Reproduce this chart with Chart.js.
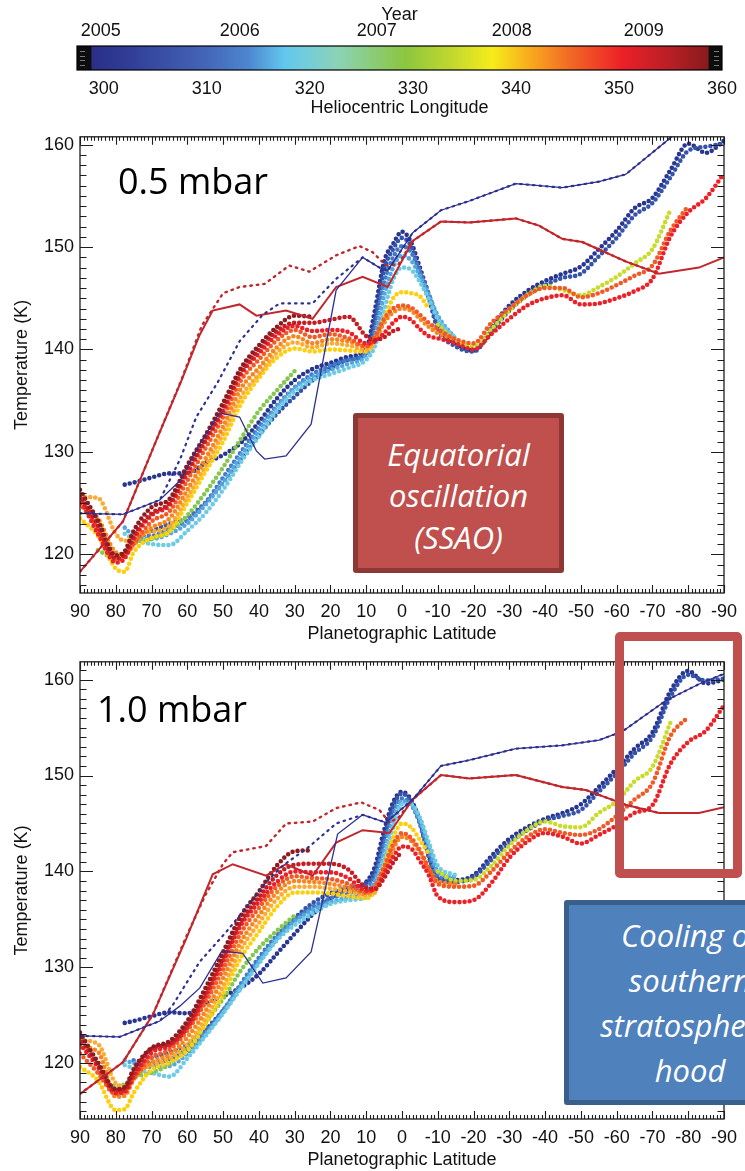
<!DOCTYPE html>
<html>
<head>
<meta charset="utf-8">
<title>Saturn stratospheric temperatures</title>
<script src="https://cdn.jsdelivr.net/npm/chart.js@4.4.1/dist/chart.umd.min.js"></script>
<style>
  html, body { margin: 0; padding: 0; background: #fff; }
  body { width: 745px; height: 1171px; position: relative; overflow: hidden; }
  canvas { position: absolute; left: 0; }
  #cbar { top: 0; }
  #p05 { top: 120px; }
  #p10 { top: 645px; }
  .note {
    position: absolute; box-sizing: border-box; color: #fff;
    font-family: "Open Sans", "Noto Sans", sans-serif; font-style: italic;
    text-align: center; border-radius: 3px; z-index: 5;
    display: flex; flex-direction: column; justify-content: center;
  }
  #ssao { left: 353px; top: 413px; width: 211px; height: 160px;
          background: #c0504d; border: 5px solid #8e3836; font-size: 31px; line-height: 41.5px; padding-top: 6px; }
  #hood { left: 564px; top: 900px; width: 252px; height: 205px;
          background: #4f81bd; border: 5px solid #3a5f8b; font-size: 31px; line-height: 45px; }
  #focus { position: absolute; left: 615px; top: 632px; width: 127px; height: 246px; box-sizing: border-box;
           border: 9px solid #c0504d; border-radius: 5px; z-index: 4; }
</style>
</head>
<body>
<canvas id="cbar" width="745" height="120"></canvas>
<canvas id="p05" width="745" height="525"></canvas>
<canvas id="p10" width="745" height="526"></canvas>
<div class="note" id="ssao"><span>Equatorial</span><span>oscillation</span><span>(SSAO)</span></div>
<div id="focus"></div>
<div class="note" id="hood"><span>Cooling of</span><span>southern</span><span>stratospheric</span><span>hood</span></div>

<script>
Chart.defaults.font.family = "'Liberation Sans', Arial, Helvetica, sans-serif";
Chart.defaults.color = '#111';

// ---- colour bar: heliocentric longitude and year ----
const lsTicks = [300, 310, 320, 330, 340, 350, 360];
const yearLabels = ['2005', '2006', '2007', '2008', '2009'];
const yearLs = [299.7, 313.2, 326.5, 339.6, 352.4];
const cmapLs = [298.8, 302, 306, 310, 314, 317.6, 322.6, 329.3, 334, 337.7, 341.9, 345.2, 350.3, 355.3, 358.7];
const cmapColors = ['#2a2f86', '#303b95', '#3a50a6', '#4466b8', '#4d86cf', '#62c8ef', '#8bd3b8', '#8cc63f',
                    '#c4d92e', '#f6ec1a', '#f8a11f', '#f26a25', '#ec2027', '#b41f25', '#861a1c'];

// ---- temperature profiles: latitude grid shared by the dotted retrievals ----
const latGrid = [90, 85, 80, 77.5, 75, 70, 65, 60, 55, 50, 45, 40, 35, 30, 25, 20, 15, 10, 7.5, 5,
                 2.5, 0, -2.5, -5, -7.5, -10, -15, -20, -25, -30, -35, -40, -45, -50, -55, -60, -65, -70, -75, -80, -85, -90];
const latTicks = [90, 80, 70, 60, 50, 40, 30, 20, 10, 0, -10, -20, -30, -40, -50, -60, -70, -80, -90];
const tempTicks = [120, 130, 140, 150, 160];

// 0.5 mbar
const navy05 = [null, null, null, 126.8, 127.0, 127.5, 127.9, 127.9, 128.9, 129.7,
  130.9, 132.9, 135.2, 137.0, 138.1, 138.7, 139.3, 140.1, 144.0, 148.6,
  150.3, 151.5, 150.5, 148.0, 145.3, 142.3, 140.6, 139.9, 142.2, 144.3,
  145.7, 146.7, 147.4, 148.1, 149.8, 151.6, 153.8, 154.8, 157.5, 160.1, 159.2, 160.4];
const blue05 = [null, null, null, null, null, 122.3, 123.0, 123.6, 125.0, 127.0,
  129.3, 131.6, 133.7, 135.4, 137.0, 138.2, 139.0, 139.7, 143.0, 147.8,
  149.8, 150.9, 150.1, 147.5, 145.0, 142.0, 140.3, 139.8, 141.8, 143.8,
  145.3, 146.3, 147.0, 147.4, 149.1, 150.9, 153.1, 154.3, 156.8, 159.4, 159.8, 160.1];
const mblue05 = [null, null, null, null, 122.0, 121.8, 122.5, 123.3, 125.0, 127.5,
  130.0, 132.4, 134.5, 136.3, 137.6, 138.4, 139.0, 139.6, 142.0, 146.5,
  149.0, 150.1, 149.5, 147.6, 145.4, 143.0, 140.8, null, null, null,
  null, null, null, null, null, null, null, null, null, null, null, null];
const lblue05 = [null, null, null, 122.6, 121.8, 121.5, 122.0, 123.0, 124.8, 127.0,
  129.6, 132.0, 134.3, 136.2, 137.3, 138.0, 138.6, 139.4, 141.3, 145.3,
  148.0, 149.2, 148.7, 147.2, 145.3, 143.3, 141.0, null, null, null,
  null, null, null, null, null, null, null, null, null, null, null, null];
const cyan05 = [null, null, null, 122.0, 121.5, 121.0, 120.9, 122.3, 124.0, 126.3,
  129.0, 131.5, 134.0, 135.9, 137.0, 137.6, 138.2, 139.0, 140.4, 143.8,
  146.8, 148.0, 147.8, 146.6, 144.9, 143.0, 141.1, null, null, null,
  null, null, null, null, null, null, null, null, null, null, null, null];
const green05 = [null, 120.4, 119.6, 120.0, 121.0, 121.5, 122.3, 123.8, 126.0, 128.5,
  131.3, 134.0, 136.0, 137.9, null, null, null, null, null, null,
  null, null, null, null, null, null, null, null, null, null,
  null, null, null, null, null, null, null, null, null, null, null, null];
const lime05 = [null, null, null, null, null, null, null, null, null, null,
  null, null, null, null, null, null, null, null, null, null,
  null, null, null, null, null, 142.4, 140.9, 140.3, 142.0, 143.8,
  145.3, 146.2, 145.8, 145.3, 146.1, 147.1, 148.4, 149.8, 153.6, null, null, null];
const yellow05 = [123.5, 121.8, 118.6, 118.3, 120.2, 121.6, 122.2, 125.0, 128.0, 131.0,
  134.7, 137.2, 139.2, 140.1, 139.8, 140.0, 139.9, 139.8, 141.0, 143.0,
  145.0, 145.6, 145.5, 145.2, 144.0, null, null, null, null, null,
  null, null, null, null, null, null, null, null, null, null, null, null];
const lorange05 = [125.6, 125.5, 122.0, 121.3, 121.8, 122.2, 122.8, 125.6, 128.6, 131.8,
  135.4, 137.6, 139.7, 140.7, 140.2, 140.6, 140.4, 140.0, 140.5, null,
  null, null, null, null, null, null, null, null, null, null,
  null, null, null, null, null, null, null, null, null, null, null, null];
const orange05 = [124.8, 123.5, 120.2, 120.0, 121.0, 122.6, 123.5, 126.3, 129.3, 132.5,
  136.2, 138.2, 140.2, 141.3, 140.6, 141.0, 140.8, 140.3, 141.0, 142.6,
  143.6, 144.0, 143.8, 143.0, 142.2, 141.6, 141.0, null, null, null,
  null, null, null, null, null, null, null, null, null, null, null, null];
const rorange05 = [125.0, 122.5, 119.5, 119.8, 121.0, 123.2, 124.2, 127.2, 130.3, 133.4,
  137.0, 139.0, 140.9, 141.9, 141.2, 141.5, 141.1, 140.3, 141.3, 143.0,
  144.0, 144.3, 144.1, 143.4, 142.6, 142.0, 141.0, 140.6, 142.6, 144.0,
  145.3, 146.0, 146.0, 145.1, 145.5, 146.3, 147.2, 148.2, 151.6, 154.0, null, null];
const red05 = [125.5, 122.0, 119.2, 119.6, 121.5, 123.8, 124.8, 127.9, 131.0, 134.0,
  137.6, 139.6, 141.4, 142.3, 141.8, 141.9, 141.7, 140.6, 140.8, 141.6,
  142.6, 143.2, 142.9, 142.0, 141.3, 141.1, 140.6, 140.0, 141.5, 143.0,
  144.3, 145.0, 145.3, 144.4, 144.5, 145.0, 145.7, 146.9, 151.0, 153.4, 154.8, 157.2];
const dred05 = [125.8, 122.8, 119.6, 120.0, 121.8, 124.0, 125.0, 128.2, 131.2, 134.3,
  137.8, 140.0, 141.8, 142.6, 142.6, 142.9, 143.2, 141.3, 140.9, 141.2,
  141.8, 142.1, null, null, null, null, null, null, null, null,
  null, null, null, null, null, null, null, null, null, null, null, null];
const maroon05 = [126.3, 123.3, 119.9, 120.3, 122.3, 124.6, 125.4, 128.7, 131.6, 134.8,
  138.2, 140.4, 142.2, 143.3, 143.2, null, null, null, null, null,
  null, null, null, null, null, null, null, null, null, null,
  null, null, null, null, null, null, null, null, null, null, null, null];

// 1.0 mbar
const navy10 = [null, null, null, 124.2, 124.4, 124.9, 125.3, 125.2, 126.2, 127.0,
  127.9, 129.3, 131.4, 133.5, 135.5, 137.2, 138.2, 138.9, 140.6, 144.3,
  147.2, 148.3, 147.5, 145.2, 141.6, 139.3, 139.1, 139.6, 141.6, 143.4,
  144.6, 145.5, 146.1, 147.0, 148.8, 150.7, 152.8, 154.5, 158.8, 160.9, 159.6, 160.0];
const blue10 = [null, null, null, null, null, 120.6, 121.1, 121.9, 123.5, 125.5,
  128.0, 130.6, 133.0, 135.1, 136.7, 137.7, 138.3, 138.8, 140.0, 143.5,
  146.8, 148.1, 147.3, 145.0, 141.5, 139.2, 138.9, 139.4, 141.2, 143.0,
  144.3, 145.3, 145.8, 146.4, 148.3, 150.2, 152.3, 154.0, 158.2, 160.5, 159.9, 160.1];
const mblue10 = [null, null, null, null, 120.3, 120.0, 120.4, 121.4, 123.2, 125.5,
  128.3, 131.0, 133.3, 135.0, 136.3, 137.2, 137.8, 138.4, 139.5, 142.8,
  146.0, 147.6, 147.0, 145.0, 141.8, 139.6, 139.2, null, null, null,
  null, null, null, null, null, null, null, null, null, null, null, null];
const lblue10 = [null, null, null, 120.3, 120.0, 119.6, 119.7, 121.0, 123.0, 125.3,
  128.0, 130.6, 133.0, 134.8, 136.0, 136.8, 137.3, 137.9, 139.0, 142.0,
  145.3, 147.3, 147.0, 145.3, 142.5, 140.0, 139.4, null, null, null,
  null, null, null, null, null, null, null, null, null, null, null, null];
const cyan10 = [null, null, null, 119.8, 119.5, 119.0, 118.6, 120.5, 122.8, 125.2,
  127.8, 130.4, 132.8, 134.4, 135.6, 136.6, 137.0, 137.3, 138.3, 141.2,
  144.6, 147.0, 147.0, 145.6, 143.0, 140.6, 139.6, null, null, null,
  null, null, null, null, null, null, null, null, null, null, null, null];
const green10 = [null, 119.0, 117.6, 117.8, 118.5, 119.0, 119.9, 121.7, 124.2, 126.7,
  129.7, 132.0, 133.8, 135.4, null, null, null, null, null, null,
  null, null, null, null, null, null, null, null, null, null,
  null, null, null, null, null, null, null, null, null, null, null, null];
const lime10 = [null, null, null, null, null, null, null, null, null, null,
  null, null, null, null, null, null, null, null, null, null,
  null, null, null, null, null, 140.0, 139.0, 139.1, 140.6, 142.7,
  144.3, 145.2, 144.7, 144.6, 146.1, 147.3, 149.4, 150.9, 155.5, null, null, null];
const yellow10 = [119.6, 118.2, 115.1, 115.2, 116.9, 119.3, 120.1, 121.3, 124.0, 127.2,
  131.0, 133.7, 136.3, 137.8, 137.8, 137.7, 137.4, 137.2, 138.0, 140.5,
  143.5, 145.0, 144.6, 143.3, 141.8, null, null, null, null, null,
  null, null, null, null, null, null, null, null, null, null, null, null];
const lorange10 = [122.4, 122.0, 117.9, 117.6, 118.8, 119.8, 120.5, 122.0, 124.7, 128.0,
  131.9, 134.6, 137.1, 138.4, 138.4, 138.2, 137.9, 137.5, 137.8, null,
  null, null, null, null, null, null, null, null, null, null,
  null, null, null, null, null, null, null, null, null, null, null, null];
const orange10 = [121.7, 121.2, 116.5, 116.6, 118.3, 120.1, 120.9, 122.7, 125.4, 128.9,
  132.7, 135.4, 137.8, 139.0, 138.9, 138.7, 138.3, 137.7, 138.3, 140.0,
  142.3, 143.6, 143.2, 142.0, 140.3, 139.0, 138.7, null, null, null,
  null, null, null, null, null, null, null, null, null, null, null, null];
const rorange10 = [121.0, 119.0, 116.8, 117.0, 118.4, 120.6, 121.4, 123.4, 126.3, 129.8,
  133.6, 136.2, 138.4, 139.5, 139.3, 139.2, 138.7, 137.8, 138.5, 140.5,
  142.8, 144.0, 143.5, 142.2, 140.3, 138.7, 138.4, 138.5, 140.0, 142.0,
  143.6, 144.4, 144.0, 143.8, 144.4, 145.8, 147.5, 149.2, 154.1, 156.1, null, null];
const red10 = [122.0, 119.6, 116.9, 117.0, 118.6, 121.1, 121.8, 123.7, 126.9, 130.6,
  134.4, 136.8, 138.9, 140.0, 139.9, 139.9, 139.3, 138.0, 138.1, 139.8,
  141.5, 142.6, 142.4, 141.1, 139.6, 137.4, 136.8, 137.0, 138.8, 141.4,
  143.1, 144.0, 143.6, 142.9, 143.8, 144.8, 146.1, 146.9, 151.2, 153.5, 154.7, 157.3];
const dred10 = [122.7, 119.8, 117.2, 117.3, 119.0, 121.5, 122.0, 124.0, 127.3, 131.0,
  134.8, 137.3, 139.6, 140.7, 140.8, 140.8, 140.2, 138.3, 138.2, 139.3,
  140.9, 142.1, null, null, null, null, null, null, null, null,
  null, null, null, null, null, null, null, null, null, null, null, null];
const maroon10 = [123.2, 120.1, 117.3, 117.5, 119.4, 121.6, 122.3, 124.4, 127.8, 131.6,
  135.4, 137.9, 140.6, 142.1, 142.2, null, null, null, null, null,
  null, null, null, null, null, null, null, null, null, null,
  null, null, null, null, null, null, null, null, null, null, null, null];

// reference profiles (solid and dotted lines) on their own latitude nodes
const blueLineLat05 = [90, 78, 67.7, 62, 56.5, 51, 45.4, 40.7, 38.4, 32.4, 25.4, 18.4, 11, 6.3, 4, -3, -10.9, -18.8, -31.8, -44.8, -55.1, -62.5, -75.5, -90];
const blueLineT05 = [124.0, 123.9, 125.3, 127.2, 130.8, 133.8, 133.4, 130.1, 129.3, 129.6, 132.7, 145.8, 149.0, 148.0, 147.7, 151.4, 153.6, 154.5, 156.2, 155.8, 156.4, 157.1, 160.8, 164.0];
const blueDotLat05 = [90, 78, 67.7, 62, 57.5, 51.5, 45.4, 38.9, 34.2, 25, 18.4, 11, 6.3, 4, -3, -10.9, -18.8, -31.8, -44.8, -55.1, -62.5, -75.5, -90];
const blueDotT05 = [124.0, 123.9, 125.3, 129.3, 133.4, 136.8, 140.8, 143.4, 144.5, 144.5, 146.9, 149.0, 148.0, 147.7, 151.4, 153.6, 154.5, 156.2, 155.8, 156.4, 157.1, 160.8, 164.0];
const redLineLat05 = [90, 78, 68.7, 61.7, 56.6, 52.9, 45.4, 40.7, 32.4, 25, 18.4, 11, 4, -3, -10.9, -18.8, -31.8, -38.3, -44.8, -50.4, -62.5, -71.8, -83, -90];
const redLineT05 = [118.3, 123.2, 131.1, 136.9, 141.4, 143.8, 144.4, 143.3, 143.8, 143.0, 146.1, 147.1, 146.1, 150.6, 152.5, 152.4, 152.8, 152.1, 150.8, 150.5, 148.6, 147.4, 148.0, 149.0];
const redDotLat05 = [90, 78, 68.7, 61.7, 56, 50, 45.4, 38.4, 31.5, 25.9, 18.4, 11.9, 8.2, 4.5, 1, -3, -10.9, -18.8, -31.8, -38.3, -44.8, -50.4, -62.5, -71.8];
const redDotT05 = [118.3, 123.2, 131.1, 137.0, 142.3, 145.5, 146.1, 146.4, 148.2, 147.6, 149.2, 150.1, 149.5, 148.2, 148.3, 150.6, 152.5, 152.4, 152.8, 152.1, 150.8, 150.5, 148.6, 147.4];

const blueLineLat10 = [90, 78.9, 67.7, 62.1, 56.5, 50.5, 48.2, 44.5, 38.9, 32.4, 25.4, 18, 11, 4.5, -3, -10.9, -18.8, -31.8, -44.8, -55.1, -61.6, -73.7, -83.9, -90];
const blueLineT10 = [122.85, 122.75, 124.4, 125.95, 127.85, 131.6, 131.6, 131.45, 128.35, 128.9, 131.6, 143.9, 145.9, 145.1, 147.5, 151.0, 151.6, 152.8, 153.15, 153.7, 154.6, 157.8, 159.7, 160.6];
const blueDotLat10 = [90, 78.9, 67.7, 64, 56.5, 49.1, 41.7, 38, 33.3, 25.9, 18.4, 11, 4.5, -3, -10.9, -18.8, -31.8, -44.8, -55.1, -61.6, -73.7, -83.9, -90];
const blueDotT10 = [122.85, 122.75, 124.4, 126.1, 130.6, 133.7, 137.1, 138.9, 140.6, 142.6, 145.0, 145.9, 145.1, 147.5, 151.0, 151.6, 152.8, 153.15, 153.7, 154.6, 157.8, 159.7, 160.6];
const redLineLat10 = [90, 78, 69.6, 60.3, 52.9, 47.3, 38, 32.4, 25, 18.4, 11, 3.5, -3, -10.9, -18.8, -31.8, -44.8, -51.3, -62.5, -71.8, -83, -90];
const redLineT10 = [116.8, 120.1, 125.1, 133.0, 139.7, 140.75, 139.55, 140.75, 139.55, 143.0, 144.3, 144.0, 147.5, 150.05, 149.7, 150.05, 148.8, 148.5, 146.95, 146.1, 146.1, 146.7];
const redDotLat10 = [90, 78, 69.6, 60.3, 55, 50, 47.3, 38, 32.4, 25, 18.4, 11.4, 6.3, 3.5, 1, -3, -10.9, -18.8, -31.8, -44.8, -51.3, -62.5, -71.8];
const redDotT10 = [116.8, 120.1, 125.1, 133.2, 137.5, 140.8, 142.0, 142.65, 145.0, 145.2, 146.6, 147.2, 146.4, 145.1, 145.6, 147.5, 150.05, 149.7, 150.05, 148.8, 148.5, 146.95, 146.1];

// colours of the retrieval dates, earliest to latest
const seriesColors = {
  navy: '#283591', blue: '#3553a8', mblue: '#427ac6', lblue: '#55a6df', cyan: '#6dcbe6', green: '#86c74f',
  lime: '#c9db2b', yellow: '#fdcf0f', lorange: '#fbab33', orange: '#f7861f', rorange: '#f15a27',
  red: '#ec2027', dred: '#c41e25', maroon: '#8e1b1f'
};
const blueLineColor = '#2e3192';
const redLineColor = '#c1272d';

function xy(lat, vals) { return lat.map((x, i) => ({ x, y: vals[i] })); }

function dotted(lat, vals, color, order) {
  return { data: xy(lat, vals), borderColor: color, borderWidth: 4.6, borderDash: [0, 5.1],
           borderCapStyle: 'round', borderJoinStyle: 'round', pointRadius: 0,
           cubicInterpolationMode: 'monotone', fill: false, spanGaps: false, order };
}
function profile(lat, vals, color, width, dash, order) {
  return { data: xy(lat, vals), borderColor: color, borderWidth: width, borderDash: dash,
           borderCapStyle: dash.length ? 'round' : 'butt', pointRadius: 0, tension: 0, fill: false, order };
}

// box frame with inward major and minor ticks on all four sides
const frame = {
  id: 'frame',
  afterDraw(chart) {
    const { ctx, chartArea: a, scales: { x, y } } = chart;
    ctx.save();
    ctx.strokeStyle = '#1d1d1d';
    ctx.lineWidth = 1.3;
    ctx.strokeRect(a.left, a.top, a.right - a.left, a.bottom - a.top);
    ctx.lineWidth = 1.1;
    ctx.beginPath();
    for (let v = -90; v <= 90; v += 1) {
      const px = Math.round(x.getPixelForValue(v)) + 0.5;
      const len = latTicks.includes(v) ? 8 : 4;
      ctx.moveTo(px, a.bottom); ctx.lineTo(px, a.bottom - len);
      ctx.moveTo(px, a.top); ctx.lineTo(px, a.top + len);
    }
    for (let v = Math.ceil(y.min); v <= y.max; v += 1) {
      const py = Math.round(y.getPixelForValue(v)) + 0.5;
      const len = tempTicks.includes(v) ? 13 : 6.5;
      ctx.moveTo(a.left, py); ctx.lineTo(a.left + len, py);
      ctx.moveTo(a.right, py); ctx.lineTo(a.right - len, py);
    }
    ctx.stroke();
    ctx.restore();
  }
};

const panelLabel = {
  id: 'panelLabel',
  afterDraw(chart, args, opts) {
    const { ctx } = chart;
    ctx.save();
    ctx.fillStyle = '#000';
    ctx.font = "36px 'Open Sans', 'Noto Sans', sans-serif";
    ctx.textBaseline = 'alphabetic';
    ctx.fillText(opts.text, opts.x, opts.y);
    ctx.restore();
  }
};

function makePanel(id, yMin, yMax, s, lines, label) {
  const order = ['maroon', 'dred', 'red', 'rorange', 'orange', 'lorange', 'yellow', 'lime',
                 'green', 'cyan', 'lblue', 'mblue', 'blue', 'navy'];
  const datasets = [
    profile(lines.blueLineLat, lines.blueLineT, blueLineColor, 1.3, [], 0),
    profile(lines.blueDotLat, lines.blueDotT, blueLineColor, 2.2, [1.5, 5], 0),
    profile(lines.redLineLat, lines.redLineT, redLineColor, 2.0, [], 0),
    profile(lines.redDotLat, lines.redDotT, redLineColor, 2.4, [1.5, 5], 0)
  ];
  order.forEach((k, i) => datasets.push(dotted(latGrid, s[k], seriesColors[k], i + 1)));
  return new Chart(document.getElementById(id), {
    type: 'line',
    data: { datasets },
    options: {
      responsive: false, animation: false, devicePixelRatio: 1,
      layout: { padding: { top: 13, right: 20, left: 0, bottom: 0 } },
      plugins: { legend: { display: false }, tooltip: { enabled: false }, panelLabel: label },
      scales: {
        x: {
          type: 'linear', reverse: true, min: -90, max: 90,
          afterBuildTicks: sc => { sc.ticks = latTicks.map(v => ({ value: v })); },
          afterFit: sc => { sc.height = 52; },
          grid: { display: false, drawTicks: false }, border: { display: false },
          ticks: { font: { size: 18 }, padding: 8, maxRotation: 0, autoSkip: false, callback: v => String(v) },
          title: { display: true, text: 'Planetographic Latitude', font: { size: 18 }, padding: { top: 0, bottom: 0 } }
        },
        y: {
          type: 'linear', min: yMin, max: yMax,
          afterBuildTicks: sc => { sc.ticks = tempTicks.map(v => ({ value: v })); },
          afterFit: sc => { sc.width = 80; },
          grid: { display: false, drawTicks: false }, border: { display: false },
          ticks: { font: { size: 18 }, padding: 6, callback: v => String(v) },
          title: { display: true, text: 'Temperature (K)', font: { size: 18 }, padding: { top: 11, bottom: 0 } }
        }
      }
    },
    plugins: [frame, panelLabel]
  });
}

makePanel('p05', 116.22, 160.77,
  { navy: navy05, blue: blue05, mblue: mblue05, lblue: lblue05, cyan: cyan05, green: green05, lime: lime05,
    yellow: yellow05, lorange: lorange05, orange: orange05, rorange: rorange05, red: red05, dred: dred05, maroon: maroon05 },
  { blueLineLat: blueLineLat05, blueLineT: blueLineT05, blueDotLat: blueDotLat05, blueDotT: blueDotT05,
    redLineLat: redLineLat05, redLineT: redLineT05, redDotLat: redDotLat05, redDotT: redDotT05 },
  { text: '0.5 mbar', x: 118, y: 74 });

makePanel('p10', 114.18, 161.86,
  { navy: navy10, blue: blue10, mblue: mblue10, lblue: lblue10, cyan: cyan10, green: green10, lime: lime10,
    yellow: yellow10, lorange: lorange10, orange: orange10, rorange: rorange10, red: red10, dred: dred10, maroon: maroon10 },
  { blueLineLat: blueLineLat10, blueLineT: blueLineT10, blueDotLat: blueDotLat10, blueDotT: blueDotT10,
    redLineLat: redLineLat10, redLineT: redLineT10, redDotLat: redDotLat10, redDotT: redDotT10 },
  { text: '1.0 mbar', x: 97, y: 77 });

// colour bar
const cbarFill = {
  id: 'cbarFill',
  beforeDatasetsDraw(chart) {
    const { ctx, chartArea: a, scales: { x } } = chart;
    const x0 = x.getPixelForValue(cmapLs[0]);
    const x1 = x.getPixelForValue(cmapLs[cmapLs.length - 1]);
    const g = ctx.createLinearGradient(x0, 0, x1, 0);
    cmapLs.forEach((v, i) => g.addColorStop((x.getPixelForValue(v) - x0) / (x1 - x0), cmapColors[i]));
    ctx.save();
    ctx.fillStyle = '#0d0d0d';
    ctx.fillRect(a.left, a.top, a.right - a.left, a.bottom - a.top);
    ctx.fillStyle = g;
    ctx.fillRect(x0, a.top, x1 - x0, a.bottom - a.top);
    // small marks on the black end caps
    ctx.strokeStyle = '#777';
    ctx.lineWidth = 1;
    ctx.beginPath();
    for (let k = 1; k <= 4; k++) {
      const yy = Math.round(a.top + k * (a.bottom - a.top) / 5) + 0.5;
      ctx.moveTo(a.left + 3, yy); ctx.lineTo(a.left + 8, yy);
      ctx.moveTo(a.right - 8, yy); ctx.lineTo(a.right - 3, yy);
    }
    ctx.stroke();
    ctx.strokeStyle = '#000';
    ctx.lineWidth = 1.2;
    ctx.strokeRect(a.left, a.top, a.right - a.left, a.bottom - a.top);
    ctx.restore();
  }
};

new Chart(document.getElementById('cbar'), {
  type: 'line',
  data: { datasets: [] },
  options: {
    responsive: false, animation: false, devicePixelRatio: 1,
    layout: { padding: { top: 0, right: 9, left: 77, bottom: 0 } },
    plugins: { legend: { display: false }, tooltip: { enabled: false } },
    scales: {
      x: {
        type: 'linear', position: 'bottom', min: 297.4, max: 360,
        afterBuildTicks: sc => { sc.ticks = lsTicks.map(v => ({ value: v })); },
        afterFit: sc => { sc.height = 50; },
        grid: { display: false, drawTicks: false }, border: { display: false },
        ticks: { font: { size: 18 }, padding: 8, maxRotation: 0, autoSkip: false, callback: v => String(v) },
        title: { display: true, text: 'Heliocentric Longitude', font: { size: 18 }, padding: { top: 0, bottom: 1 } }
      },
      yr: {
        type: 'linear', position: 'top', min: 297.4, max: 360,
        afterBuildTicks: sc => { sc.ticks = yearLs.map(v => ({ value: v })); },
        afterFit: sc => { sc.height = 46; },
        grid: { display: false, drawTicks: false }, border: { display: false },
        ticks: { font: { size: 18 }, padding: 4, maxRotation: 0, autoSkip: false, callback: (v, i) => yearLabels[i] },
        title: { display: true, text: 'Year', font: { size: 18 }, padding: { top: 4, bottom: 0 } }
      },
      y: { display: false, min: 0, max: 1 }
    }
  },
  plugins: [cbarFill]
});
</script>
</body>
</html>
